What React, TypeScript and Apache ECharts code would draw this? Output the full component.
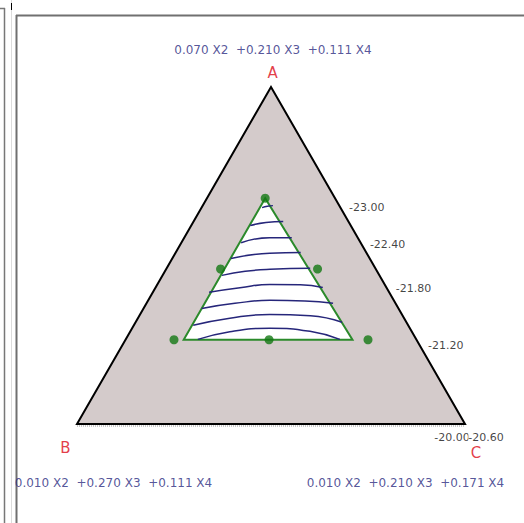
import React, { useEffect, useRef } from "react";
import * as echarts from "echarts";

// Ternary compositions are [A, B, C]; A = top, B = bottom-left, C = bottom-right
const vertexNames = ["A", "B", "C"];
const vertexCompositions = [
  "0.070 X2  +0.210 X3  +0.111 X4",
  "0.010 X2  +0.270 X3  +0.111 X4",
  "0.010 X2  +0.210 X3  +0.171 X4",
];
const outerTriangle: number[][] = [
  [1, 0, 0],
  [0, 1, 0],
  [0, 0, 1],
];
const innerTriangle: number[][] = [
  [0.67, 0.18, 0.15],
  [0.25, 0.6, 0.15],
  [0.25, 0.165, 0.585],
];
const designPoints: number[][] = [
  [0.67, 0.18, 0.15],
  [0.46, 0.4, 0.14],
  [0.46, 0.15, 0.39],
  [0.25, 0.625, 0.125],
  [0.25, 0.38, 0.37],
  [0.25, 0.125, 0.625],
];
// contour lines, points as [A, C] (B = 1 - A - C)
const contour1 = [[0.642, 0.156], [0.646, 0.168], [0.648, 0.181]];
const contour2 = [[0.589, 0.152], [0.598, 0.188], [0.601, 0.231]];
const contour3 = [[0.538, 0.154], [0.553, 0.22], [0.553, 0.277]];
const contour4 = [[0.491, 0.151], [0.507, 0.243], [0.509, 0.322]];
const contour5 = [[0.441, 0.153], [0.453, 0.207], [0.459, 0.268], [0.462, 0.37]];
const contour6 = [[0.391, 0.145], [0.404, 0.218], [0.414, 0.29], [0.413, 0.369], [0.405, 0.431]];
const contour7 = [[0.343, 0.15], [0.358, 0.228], [0.367, 0.314], [0.365, 0.405], [0.358, 0.481]];
const contour8 = [[0.293, 0.153], [0.314, 0.237], [0.325, 0.334], [0.321, 0.441], [0.302, 0.532]];
const contour9 = [[0.251, 0.186], [0.274, 0.257], [0.284, 0.355], [0.275, 0.463], [0.251, 0.552]];
const contourLines = [contour1, contour2, contour3, contour4, contour5, contour6, contour7, contour8, contour9];
// level labels along the A-C edge (B = 0), placed at A fraction
const edgeLabels = ["-23.00", "-22.40", "-21.80", "-21.20"];
const edgeLabelA = [0.642, 0.534, 0.401, 0.234];
const cornerLabels = ["-20.00", "-20.60"];

const FONT = "DejaVu Sans";
const nameOffsets = [[1.5, -14.5], [-11.7, 24.3], [11, 29]];
const compOffsets = [[2, -37], [36.5, 59], [-59.5, 59]];
const cornerOffsets = [[-13, 13], [21, 13]];

const toXY = (p: number[]) => [p[2] + p[0] / 2, p[0]];
const acToXY = (p: number[]) => [p[1] + p[0] / 2, p[0]];

export default function App() {
  const ref = useRef<HTMLDivElement>(null);
  useEffect(() => {
    if (!ref.current) return;
    const chart = echarts.init(ref.current, null, { renderer: "svg" });
    const outerXY = outerTriangle.map(toXY);
    const innerXY = innerTriangle.map(toXY);

    const labelData: any[] = [];
    outerXY.forEach((xy, i) => {
      labelData.push({
        value: xy,
        label: {
          show: true, position: "inside", formatter: vertexNames[i], offset: nameOffsets[i],
          color: "#dc0a18", fontSize: 15, fontFamily: FONT,
        },
      });
      labelData.push({
        value: xy,
        label: {
          show: true, position: "inside", formatter: vertexCompositions[i], offset: compOffsets[i],
          color: "#2a2a80", fontSize: 12, fontFamily: FONT,
        },
      });
    });
    edgeLabels.forEach((t, i) => {
      labelData.push({
        value: toXY([edgeLabelA[i], 0, 1 - edgeLabelA[i]]),
        label: {
          show: true, position: "right", distance: 8, formatter: t,
          color: "#111", fontSize: 11, fontFamily: FONT,
        },
      });
    });
    cornerLabels.forEach((t, i) => {
      labelData.push({
        value: outerXY[2],
        label: {
          show: true, position: "inside", formatter: t, offset: cornerOffsets[i],
          color: "#111", fontSize: 11, fontFamily: FONT, backgroundColor: "#fff", padding: [1, 0],
        },
      });
    });

    const polySeries = (pts: number[][], style: any, extra?: (px: any) => any[]) => ({
      type: "custom",
      coordinateSystem: "cartesian2d",
      silent: true,
      clip: false,
      data: [pts[0]],
      renderItem: (_params: any, api: any) => {
        const px = pts.map((p) => api.coord(p));
        const children: any[] = [{ type: "polygon", shape: { points: px }, style }];
        if (extra) children.push(...extra(px));
        return { type: "group", children };
      },
    });

    chart.setOption({
      animation: false,
      grid: { left: 77, right: 59, top: 87, bottom: 99 },
      xAxis: { type: "value", min: 0, max: 1, show: false },
      yAxis: { type: "value", min: 0, max: 1, show: false },
      graphic: [
        { type: "line", shape: { x1: 0, y1: 8.5, x2: 5, y2: 8.5 }, style: { stroke: "#777", lineWidth: 1.5 } },
        { type: "line", shape: { x1: 4.5, y1: 8, x2: 4.5, y2: 523 }, style: { stroke: "#777", lineWidth: 1.5 } },
        { type: "line", shape: { x1: 11.5, y1: 0, x2: 11.5, y2: 523 }, style: { stroke: "#dcdcdc", lineWidth: 1 } },
        { type: "line", shape: { x1: 11.5, y1: 3, x2: 11.5, y2: 10 }, style: { stroke: "#000", lineWidth: 1 } },
        { type: "line", shape: { x1: 16.5, y1: 15, x2: 16.5, y2: 523 }, style: { stroke: "#707070", lineWidth: 2 } },
        { type: "line", shape: { x1: 16, y1: 15.5, x2: 524, y2: 15.5 }, style: { stroke: "#707070", lineWidth: 2 } },
      ],
      series: [
        {
          ...polySeries(outerXY, { fill: "#d4cbcb", stroke: "#000", lineWidth: 2, lineJoin: "miter" }, (px) => [
            {
              type: "line",
              shape: { x1: px[1][0], y1: px[1][1] + 2, x2: px[2][0], y2: px[2][1] + 2 },
              style: { stroke: "#bbb", lineWidth: 1.5, lineDash: [1, 1] },
            },
          ]),
          z: 1,
        },
        { ...polySeries(innerXY, { fill: "#fff", stroke: "#2b8a2b", lineWidth: 2 }), z: 2 },
        ...contourLines.map((line) => ({
          type: "line",
          silent: true,
          symbol: "none",
          smooth: 0.5,
          data: line.map(acToXY),
          lineStyle: { color: "#26267a", width: 1.5 },
          z: 3,
        })),
        {
          type: "scatter",
          silent: true,
          clip: false,
          symbolSize: 9,
          itemStyle: { color: "#137813" },
          data: designPoints.map(toXY),
          z: 4,
        },
        {
          type: "scatter",
          silent: true,
          clip: false,
          symbolSize: 1,
          itemStyle: { color: "rgba(0,0,0,0)" },
          data: labelData,
          z: 5,
        },
      ],
    });
    return () => chart.dispose();
  }, []);
  return (
    <div
      ref={ref}
      style={{ position: "fixed", left: 0, top: 0, width: 524, height: 523, background: "#fff" }}
    />
  );
}
